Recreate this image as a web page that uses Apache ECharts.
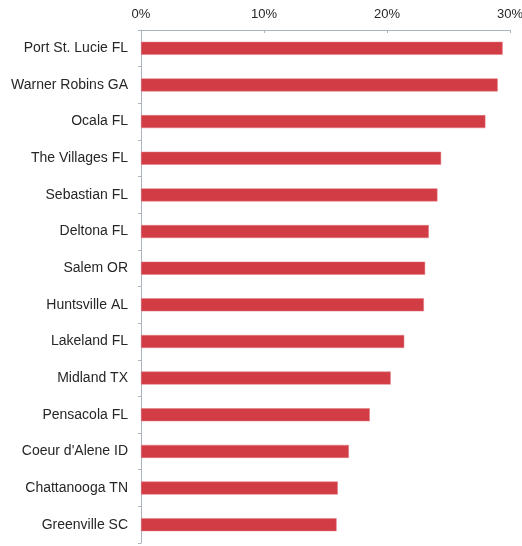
<!DOCTYPE html>
<html>
<head>
<meta charset="utf-8">
<script src="https://cdn.jsdelivr.net/npm/echarts@6/dist/echarts.min.js"></script>
<style>
  html, body { margin: 0; padding: 0; background: #fff; }
  #chart { width: 522px; height: 546px; }
</style>
</head>
<body>
<div id="chart"></div>
<script>
// Metro areas, top to bottom
const metros = [
  "Port St. Lucie FL", "Warner Robins GA", "Ocala FL", "The Villages FL",
  "Sebastian FL", "Deltona FL", "Salem OR", "Huntsville AL",
  "Lakeland FL", "Midland TX", "Pensacola FL", "Coeur d'Alene ID",
  "Chattanooga TN", "Greenville SC"
];
// Share, in percent
const shares = [29.4, 29.0, 28.0, 24.4, 24.1, 23.4, 23.1, 23.0, 21.4, 20.3, 18.6, 16.9, 16.0, 15.9];
const pctTicks = [0, 10, 20, 30];

const chart = echarts.init(document.getElementById('chart'));
chart.setOption({
  animation: false,
  textStyle: { fontFamily: 'Liberation Sans, Arial, sans-serif' },
  grid: { left: 141, right: 12, top: 30, bottom: 3, containLabel: false, outerBoundsMode: 'none' },
  xAxis: {
    type: 'value',
    position: 'top',
    min: pctTicks[0],
    max: pctTicks[pctTicks.length - 1],
    interval: 10,
    axisLine: { show: true, lineStyle: { color: '#aab4c0', width: 1 } },
    axisTick: { show: true, inside: true, length: 3, lineStyle: { color: '#aab4c0' } },
    splitLine: { show: false },
    axisLabel: { formatter: v => v + '%', color: '#262626', fontSize: 13, margin: 9 }
  },
  yAxis: {
    type: 'category',
    inverse: true,
    data: metros,
    axisLine: { show: true, lineStyle: { color: '#aab4c0', width: 1 } },
    axisTick: { show: true, length: 3, lineStyle: { color: '#aab4c0' } },
    axisLabel: { color: '#262626', fontSize: 14, margin: 13 }
  },
  series: [{
    type: 'bar',
    data: shares,
    barWidth: 13,
    itemStyle: { color: '#d23c45', borderColor: '#e07a80', borderWidth: 0.5 }
  }]
});
</script>
</body>
</html>
